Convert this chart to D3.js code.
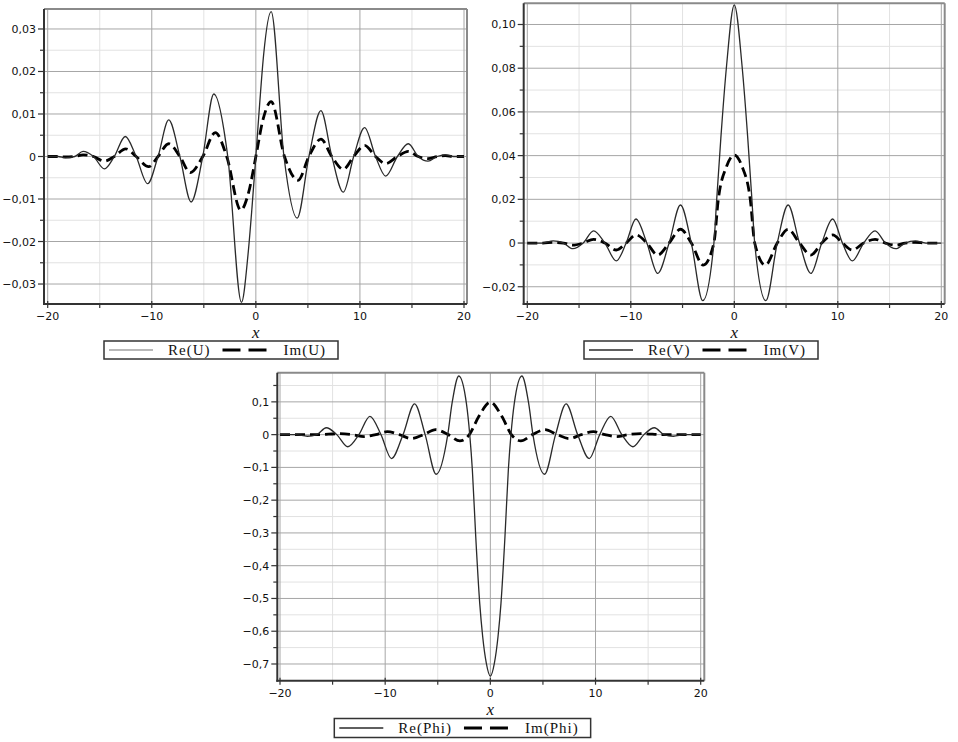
<!DOCTYPE html>
<html lang="en">
<head>
  <meta charset="UTF-8">
  <title>Re / Im of U, V, Phi</title>
  <script src="https://d3js.org/d3.v7.min.js"></script>
  <style>
    body { margin: 0; background: #fff; }
    .tick-label { font-family: "DejaVu Sans", sans-serif; font-size: 11px; fill: #111; }
    .legend-text { font-family: "Liberation Serif", serif; font-size: 15px; letter-spacing: 1px; fill: #111; }
    .axis-title { font-family: "Liberation Serif", serif; font-style: italic; font-size: 17px; fill: #111; }
  </style>
</head>
<body>
  <svg width="958" height="742"></svg>
  <script>
    // ---- data: [x, value] ----
    const reU = [[-20,0],[-19,0],[-18.3,-0.0003],[-17.4,0],[-16.6,0.0012],[-15.6,0],[-14.55,-0.0029],[-13.6,0],
      [-12.55,0.0047],[-11.5,0],[-10.4,-0.0064],[-9.4,0],[-8.37,0.0086],[-7.3,0],[-6.22,-0.0107],[-5.1,0],
      [-4.04,0.0147],[-2.7,0],[-1.38,-0.0343],[-0.75,-0.023],[-0.37,-0.012],[0,0],[0.37,0.0125],[0.75,0.024],
      [1.47,0.0341],[2.7,0],[3.97,-0.0145],[5.1,0],[6.25,0.0108],[7.3,0],[8.4,-0.0084],[9.4,0],[10.45,0.0068],
      [11.5,0],[12.47,-0.0046],[13.6,0],[14.65,0.003],[15.6,0],[16.54,-0.0011],[17.4,0],[18.2,0.0004],[19,0],[20,0]];
    const imU = [[-20,0],[-19,0],[-18.3,-0.0001],[-17.4,0],[-16.6,0.0004],[-15.6,0],[-14.55,-0.0011],[-13.6,0],
      [-12.5,0.0018],[-11.5,0],[-10.3,-0.0024],[-9.4,0],[-8.37,0.003],[-7.3,0],[-6.3,-0.0038],[-5.1,0],
      [-3.9,0.0056],[-2.8,0],[-1.45,-0.0126],[-0.7,-0.0085],[0,0],[0.7,0.0088],[1.47,0.0129],[2.75,0],
      [4.05,-0.0056],[5.1,0],[6.25,0.0041],[7.3,0],[8.4,-0.003],[9.4,0],[10.45,0.0026],[11.5,0],[12.47,-0.0017],
      [13.6,0],[14.65,0.0012],[15.6,0],[16.54,-0.0005],[17.4,0],[18.2,0.0002],[19,0],[20,0]];

    const reV = [[-20,0],[-19.3,0],[-18.5,0],[-17.5,0.001],[-16.5,0],[-15.6,-0.0026],[-14.6,0],[-13.6,0.0056],
      [-12.5,0],[-11.4,-0.0082],[-10.45,0],[-9.5,0.011],[-8.45,0],[-7.4,-0.0139],[-6.3,0],[-5.2,0.0174],
      [-4.15,0],[-3.05,-0.0264],[-1.97,0],[-1.7,0.02],[-1.3,0.048],[-0.75,0.081],[0,0.109],[0.75,0.081],
      [1.3,0.048],[1.7,0.02],[1.97,0],[3.05,-0.0264],[4.15,0],[5.2,0.0174],[6.3,0],[7.4,-0.0139],[8.45,0],
      [9.5,0.011],[10.45,0],[11.4,-0.0082],[12.5,0],[13.6,0.0056],[14.6,0],[15.6,-0.0026],[16.5,0],
      [17.5,0.001],[18.5,0],[19.3,0],[20,0]];
    const imV = [[-20,0],[-19.3,0],[-18.5,0],[-17.5,0.0003],[-16.5,0],[-15.6,-0.001],[-14.6,0],[-13.6,0.0017],
      [-12.5,0],[-11.4,-0.0032],[-10.45,0],[-9.5,0.0037],[-8.45,0],[-7.4,-0.0055],[-6.3,0],[-5.2,0.0063],
      [-4.15,0],[-3.0,-0.0101],[-1.97,0],[-1.55,0.0197],[-0.75,0.035],[0,0.0403],[0.75,0.035],[1.55,0.0197],
      [1.97,0],[3.0,-0.0101],[4.15,0],[5.2,0.0063],[6.3,0],[7.4,-0.0055],[8.45,0],[9.5,0.0037],[10.45,0],
      [11.4,-0.0032],[12.5,0],[13.6,0.0017],[14.6,0],[15.6,-0.001],[16.5,0],[17.5,0.0003],[18.5,0],[19.3,0],[20,0]];

    const rePhi = [[-20,0],[-19.3,0],[-18.5,0],[-17.4,-0.005],[-16.5,0],[-15.6,0.021],[-14.6,0],[-13.55,-0.037],
      [-12.5,0],[-11.45,0.056],[-10.4,0],[-9.4,-0.073],[-8.3,0],[-7.2,0.094],[-6.2,0],[-5.15,-0.121],
      [-4.05,0],[-3.64,0.096],[-3.0,0.179],[-2.28,0.096],[-1.96,0],[-1.71,-0.108],[-1.39,-0.311],[-1.01,-0.515],
      [-0.73,-0.616],[-0.38,-0.698],[0,-0.737],[0.38,-0.698],[0.73,-0.616],[1.01,-0.515],[1.39,-0.311],
      [1.71,-0.108],[1.96,0],[2.28,0.096],[3.0,0.179],[3.64,0.096],[4.05,0],[5.15,-0.121],[6.2,0],[7.2,0.094],[8.3,0],
      [9.4,-0.073],[10.4,0],[11.45,0.056],[12.5,0],[13.55,-0.037],[14.6,0],[15.6,0.021],[16.5,0],
      [17.4,-0.005],[18.5,0],[19.3,0],[20,0]];
    const imPhi = [[-20,0],[-18.5,0],[-16.5,0],[-14.3,0.003],[-13.1,0],[-12.0,-0.006],[-10.9,0],[-9.8,0.009],
      [-8.65,0],[-7.5,-0.012],[-6.35,0],[-5.2,0.015],[-4.0,0],[-2.9,-0.019],[-2.0,0],[-1.1,0.055],[0,0.099],
      [1.1,0.055],[2.0,0],[2.9,-0.019],[4.0,0],[5.2,0.015],[6.35,0],[7.5,-0.012],[8.65,0],[9.8,0.009],
      [10.9,0],[12.0,-0.006],[13.1,0],[14.3,0.003],[16.5,0],[18.5,0],[20,0]];

    // ---- ticks ----
    const xTicks = [-20, -10, 0, 10, 20];
    const xMinor = [-15, -5, 5, 15];
    const uTicks = [-0.03, -0.02, -0.01, 0, 0.01, 0.02, 0.03];
    const uLabels = ["−0,03", "−0,02", "−0,01", "0", "0,01", "0,02", "0,03"];
    const uMinor = [-0.025, -0.015, -0.005, 0.005, 0.015, 0.025];
    const vTicks = [-0.02, 0, 0.02, 0.04, 0.06, 0.08, 0.10];
    const vLabels = ["−0,02", "0", "0,02", "0,04", "0,06", "0,08", "0,10"];
    const vMinor = [-0.01, 0.01, 0.03, 0.05, 0.07, 0.09];
    const phiTicks = [-0.7, -0.6, -0.5, -0.4, -0.3, -0.2, -0.1, 0, 0.1];
    const phiLabels = ["−0,7", "−0,6", "−0,5", "−0,4", "−0,3", "−0,2", "−0,1", "0", "0,1"];
    const phiMinor = [-0.65, -0.55, -0.45, -0.35, -0.25, -0.15, -0.05, 0.05, 0.15];

    const svg = d3.select("svg");

    function panel(cfg) {
      const x = d3.scaleLinear().domain([-20, 20]).range(cfg.xr);
      const y = d3.scaleLinear().domain(cfg.yd).range([cfg.frame.b, cfg.frame.t]);
      const f = cfg.frame;
      const g = svg.append("g");

      // grid: minor first, then major
      g.selectAll(".hmin").data(cfg.yMinor).enter().append("line")
        .attr("x1", f.l).attr("x2", f.r).attr("y1", d => y(d)).attr("y2", d => y(d))
        .attr("stroke", "#e2e2e2").attr("stroke-width", 1);
      g.selectAll(".vmin").data(xMinor).enter().append("line")
        .attr("y1", f.t).attr("y2", f.b).attr("x1", d => x(d)).attr("x2", d => x(d))
        .attr("stroke", "#e2e2e2").attr("stroke-width", 1);
      g.selectAll(".hmaj").data(cfg.yTicks).enter().append("line")
        .attr("x1", f.l).attr("x2", f.r).attr("y1", d => y(d)).attr("y2", d => y(d))
        .attr("stroke", "#a6a6a6").attr("stroke-width", 1);
      g.selectAll(".vmaj").data(xTicks).enter().append("line")
        .attr("y1", f.t).attr("y2", f.b).attr("x1", d => x(d)).attr("x2", d => x(d))
        .attr("stroke", "#a6a6a6").attr("stroke-width", 1);

      // curves
      const line = d3.line().x(d => x(d[0])).y(d => y(d[1])).curve(d3.curveMonotoneX);
      g.append("path").datum(cfg.im).attr("d", line)
        .attr("fill", "none").attr("stroke", "#000").attr("stroke-width", 2.8)
        .attr("stroke-dasharray", "10,5");
      g.append("path").datum(cfg.re).attr("d", line)
        .attr("fill", "none").attr("stroke", "#2a2a2a").attr("stroke-width", 1.3);

      // frame: top/right gray, left/bottom dark
      g.append("line").attr("x1", f.l).attr("x2", f.r).attr("y1", f.t).attr("y2", f.t)
        .attr("stroke", "#8a8a8a").attr("stroke-width", 2);
      g.append("line").attr("x1", f.r).attr("x2", f.r).attr("y1", f.t).attr("y2", f.b)
        .attr("stroke", "#8a8a8a").attr("stroke-width", 2);
      g.append("line").attr("x1", f.l).attr("x2", f.l).attr("y1", f.t).attr("y2", f.b + 1)
        .attr("stroke", "#333").attr("stroke-width", 2);
      g.append("line").attr("x1", f.l - 1).attr("x2", f.r).attr("y1", f.b).attr("y2", f.b)
        .attr("stroke", "#333").attr("stroke-width", 2);

      // y axis ticks + labels
      g.selectAll(".ytk").data(cfg.yTicks).enter().append("line")
        .attr("x1", f.l - 6).attr("x2", f.l).attr("y1", d => y(d)).attr("y2", d => y(d))
        .attr("stroke", "#333").attr("stroke-width", 1.2);
      g.selectAll(".ytm").data(cfg.yMinor).enter().append("line")
        .attr("x1", f.l - 4).attr("x2", f.l).attr("y1", d => y(d)).attr("y2", d => y(d))
        .attr("stroke", "#333").attr("stroke-width", 1.2);
      g.selectAll(".ylb").data(cfg.yTicks).enter().append("text")
        .attr("class", "tick-label")
        .attr("x", f.l - 8).attr("y", d => y(d) + 4)
        .attr("text-anchor", "end")
        .text((d, i) => cfg.yLabels[i]);

      // x axis ticks + labels
      g.selectAll(".xtk").data(xTicks).enter().append("line")
        .attr("x1", d => x(d)).attr("x2", d => x(d)).attr("y1", f.b - 3).attr("y2", f.b + 4)
        .attr("stroke", "#333").attr("stroke-width", 1.2);
      g.selectAll(".xtm").data(xMinor).enter().append("line")
        .attr("x1", d => x(d)).attr("x2", d => x(d)).attr("y1", f.b).attr("y2", f.b + 4)
        .attr("stroke", "#333").attr("stroke-width", 1.2);
      g.selectAll(".xlb").data(xTicks).enter().append("text")
        .attr("class", "tick-label")
        .attr("x", d => x(d)).attr("y", f.b + 16)
        .attr("text-anchor", "middle")
        .text(d => d < 0 ? "−" + Math.abs(d) : d);

      g.append("text").attr("class", "axis-title")
        .attr("x", x(0)).attr("y", f.b + 34)
        .attr("text-anchor", "middle").text("x");

      // legend
      const L = cfg.legend;
      const lg = g.append("g").attr("transform", `translate(${L.x},${L.y})`);
      const box = lg.append("rect").attr("x", 0).attr("y", 0).attr("height", L.h)
        .attr("fill", "#fff").attr("stroke", "#333").attr("stroke-width", 1.5);
      const mid = L.h / 2;
      lg.append("line").attr("x1", 5).attr("x2", 49).attr("y1", mid).attr("y2", mid)
        .attr("stroke", cfg.reSample).attr("stroke-width", 1.3);
      const t1 = lg.append("text").attr("class", "legend-text")
        .attr("x", 64).attr("y", mid + 5).text(cfg.names[0]);
      const s2 = 64 + t1.node().getComputedTextLength() + 12;
      lg.append("line").attr("x1", s2).attr("x2", s2 + 44).attr("y1", mid).attr("y2", mid)
        .attr("stroke", "#000").attr("stroke-width", 3).attr("stroke-dasharray", "18,8");
      const t2 = lg.append("text").attr("class", "legend-text")
        .attr("x", s2 + 61).attr("y", mid + 5).text(cfg.names[1]);
      box.attr("width", s2 + 61 + t2.node().getComputedTextLength() + 12);
    }

    panel({
      re: reU, im: imU, names: ["Re(U)", "Im(U)"], reSample: "#a0a0a0",
      xr: [47.7, 464], yd: [-0.0347, 0.0347],
      frame: {l: 44, r: 467, t: 9, b: 304},
      yTicks: uTicks, yLabels: uLabels, yMinor: uMinor,
      legend: {x: 104, y: 341, h: 18}
    });
    panel({
      re: reV, im: imV, names: ["Re(V)", "Im(V)"], reSample: "#2a2a2a",
      xr: [527.3, 941.3], yd: [-0.0279, 0.1097],
      frame: {l: 523.7, r: 944.7, t: 3.3, b: 304},
      yTicks: vTicks, yLabels: vLabels, yMinor: vMinor,
      legend: {x: 584, y: 341, h: 18}
    });
    panel({
      re: rePhi, im: imPhi, names: ["Re(Phi)", "Im(Phi)"], reSample: "#2a2a2a",
      xr: [280, 700.7], yd: [-0.751, 0.189],
      frame: {l: 277.3, r: 704.3, t: 372.7, b: 680.7},
      yTicks: phiTicks, yLabels: phiLabels, yMinor: phiMinor,
      legend: {x: 334.3, y: 718.5, h: 19}
    });
  </script>
</body>
</html>
